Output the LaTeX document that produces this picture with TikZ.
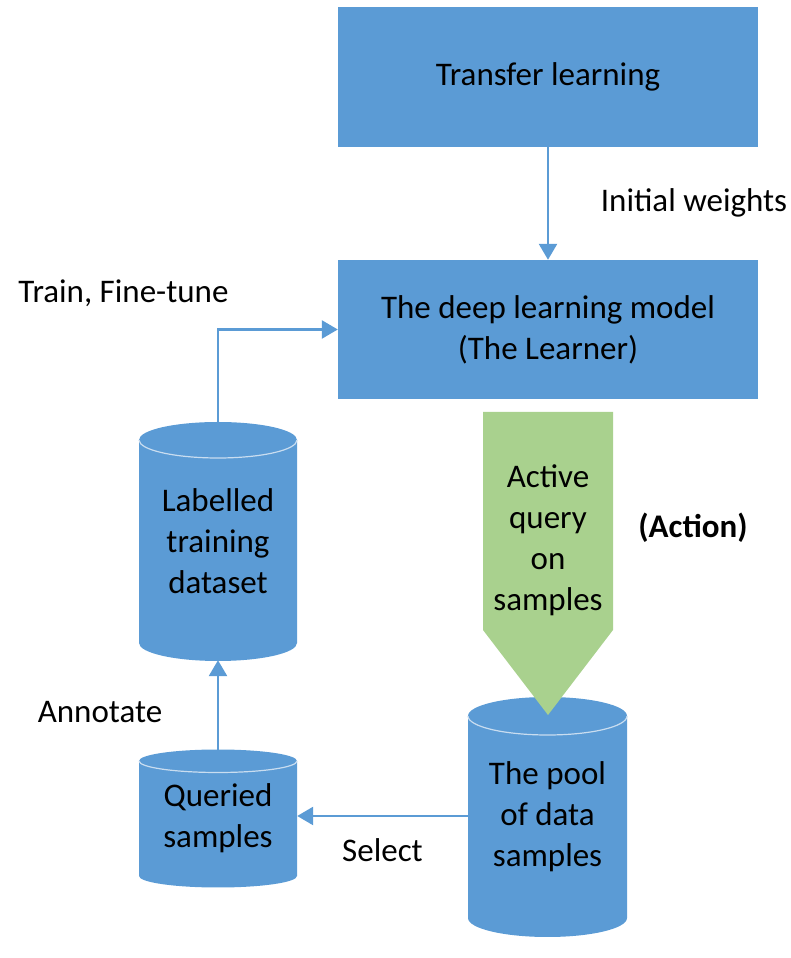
\documentclass[tikz,border=0pt]{standalone}
\usepackage{fontspec}
\setmainfont{Carlito}
\usetikzlibrary{arrows.meta}

\definecolor{boxblue}{HTML}{5B9BD5}
\definecolor{querygreen}{HTML}{A9D18E}
\definecolor{rimcol}{HTML}{C9DDF0}

\tikzset{
  bluebox/.style={rectangle, fill=boxblue, minimum width=420pt, minimum height=140pt,
    align=center, font=\fontsize{33}{41}\selectfont, inner sep=0pt},
  drumtext/.style={rectangle, draw=none, minimum width=158pt, align=center,
    font=\fontsize{33}{41}\selectfont, inner sep=0pt},
  plainlabel/.style={font=\fontsize{33}{41}\selectfont, inner sep=0pt},
  link/.style={draw=boxblue, line width=2.6pt, -{Triangle[width=18pt,length=16pt]}},
  rimline/.style={draw=rimcol, line width=1.2pt},
}

% cylinder body: centre x, top-ellipse centre y, bottom-ellipse centre y, x radius, y radius
\newcommand{\drum}[5]{%
  \fill[boxblue] (#1-#4,#2) -- (#1-#4,#3)
    arc[start angle=180,end angle=360,x radius=#4,y radius=#5]
    -- (#1+#4,#2)
    arc[start angle=0,end angle=180,x radius=#4,y radius=#5] -- cycle;
  \draw[rimline] (#1-#4,#2) arc[start angle=180,end angle=360,x radius=#4,y radius=#5];
}

\begin{document}
\begin{tikzpicture}[x=1pt,y=1pt]
\useasboundingbox (0,0) rectangle (791,958);

% main boxes
\node[bluebox] (tl) at (548,881) {Transfer learning};
\node[bluebox, minimum height=139pt] (dl) at (548,628.5) {The deep learning model\\(The Learner)};

% cylinders
\drum{218}{518}{315}{79}{18}
\drum{218}{197}{82}{79}{11.5}
\drum{547.5}{242}{40}{79.5}{19}

% green query arrow, its tip lying over the pool's lid
\fill[querygreen] (483,546) -- (613,546) -- (613,328) -- (548,243) -- (483,328) -- cycle;
\node[plainlabel, align=center] (aq) at (548,418) {Active\\query\\on\\samples};

\node[drumtext, minimum height=238pt] (lab) at (218,417) {Labelled\\training\\dataset};
\node[drumtext, minimum height=137pt] (qry) at (218,139.5) {Queried\\samples};
\node[drumtext, minimum width=159pt, minimum height=240pt] (pool) at (547.5,141) {The pool\\of data\\samples};

% connectors
\draw[link] (tl.south) -- (dl.north);
\draw[link] (lab.north) |- (dl.west);
\draw[link] (qry.north) -- (lab.south);
\draw[link] (pool.west |- 0,142) -- (qry.east |- 0,142);

% labels
\node[plainlabel] (iw) at (694,755) {Initial weights};
\node[plainlabel] (tf) at (123.5,665) {Train, Fine-tune};
\node[plainlabel] (an) at (100,246) {Annotate};
\node[plainlabel] (se) at (382.5,108) {Select};
\node[plainlabel, font=\fontsize{33}{41}\selectfont\bfseries] (ac) at (693,430) {(Action)};
\end{tikzpicture}
\end{document}
